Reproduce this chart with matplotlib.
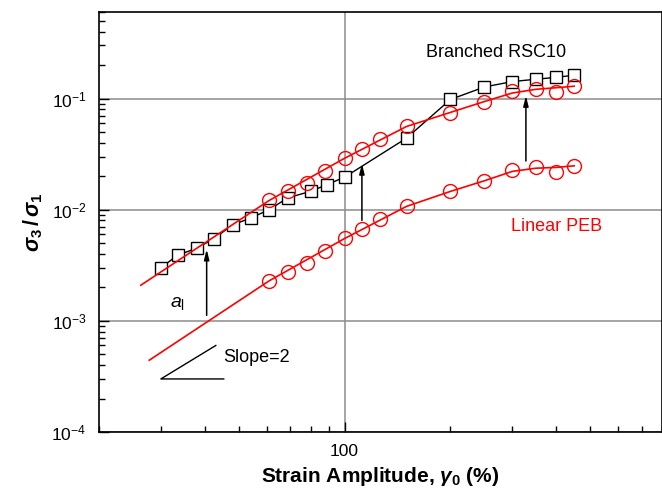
import matplotlib
matplotlib.use('Agg')
import matplotlib.pyplot as plt
from matplotlib import ticker

plt.rcParams['font.family'] = ['Liberation Sans', 'DejaVu Sans']
plt.rcParams['mathtext.fontset'] = 'custom'
plt.rcParams['mathtext.rm'] = 'Liberation Sans'
plt.rcParams['mathtext.it'] = 'Liberation Sans:italic'
plt.rcParams['mathtext.bf'] = 'Liberation Sans:bold'
plt.rcParams['mathtext.bfit'] = 'Liberation Sans:italic:bold'

# -----------------------------
# data
# -----------------------------
# Branched RSC10 (open squares, joined)
branched_strain = [30, 33.5, 38, 42.5, 48, 54, 61, 69, 80, 89, 100, 150, 200, 250, 300, 350, 400, 450]
branched_ratio = [0.0030, 0.0039, 0.0045, 0.0055, 0.0073, 0.0084, 0.0100, 0.0128, 0.0146, 0.0168,
                  0.0196, 0.044, 0.098, 0.127, 0.142, 0.149, 0.155, 0.162]

# Linear PEB (open red circles), two sets
linear_strain = [61, 69, 78, 88, 100, 112, 126, 150, 200, 250, 300, 350, 400, 450]
linear_upper = [0.0121, 0.0146, 0.0175, 0.0221, 0.0291, 0.0348, 0.0428, 0.056, 0.0748, 0.0934,
                0.117, 0.123, 0.114, 0.129]
linear_lower = [0.00229, 0.00275, 0.0033, 0.00425, 0.00556, 0.00675, 0.0083, 0.0107, 0.0146, 0.0181,
                0.0226, 0.0240, 0.0219, 0.0248]

# fitted red curves
fit_upper_x = [26.3, 61, 100, 150, 200, 250, 300, 350, 400, 450]
fit_upper_y = [0.00209, 0.0121, 0.029, 0.056, 0.075, 0.094, 0.112, 0.121, 0.125, 0.129]
fit_lower_x = [27.8, 61, 100, 150, 200, 250, 300, 350, 400, 450]
fit_lower_y = [0.000442, 0.00229, 0.0055, 0.0107, 0.0146, 0.0182, 0.0221, 0.0236, 0.0240, 0.0248]

# arrows (x, tail y, tip y)
arrow_x = [40.5, 112, 328]
arrow_tail = [0.00112, 0.0080, 0.0274]
arrow_tip = [0.0044, 0.026, 0.106]

# slope = 2 triangle
slope_x = [45.3, 30, 43]
slope_y = [0.0003, 0.0003, 0.00060]

# -----------------------------
# plot
# -----------------------------
fig = plt.figure(figsize=(6.62, 4.88), dpi=100)
ax = fig.add_axes([0.1495, 0.1148, 0.8505, 0.8606])
ax.set_xscale('log')
ax.set_yscale('log')
ax.set_xlim(20, 800)
ax.set_ylim(1e-4, 0.6)

ax.grid(True, which='major', color='#8c8c8c', lw=1.1)
ax.set_axisbelow(True)

ax.plot(branched_strain, branched_ratio, color='black', lw=1.0, marker='s', ms=9,
        mfc='white', mec='black', mew=1.0, zorder=3)
ax.plot(fit_upper_x, fit_upper_y, color='red', lw=1.2, zorder=4)
ax.plot(fit_lower_x, fit_lower_y, color='red', lw=1.2, zorder=4)
ax.plot(linear_strain, linear_upper, ls='none', marker='o', ms=10, mfc='none', mec='red', mew=1.0, zorder=5)
ax.plot(linear_strain, linear_lower, ls='none', marker='o', ms=10, mfc='none', mec='red', mew=1.0, zorder=5)

for x, y0, y1 in zip(arrow_x, arrow_tail, arrow_tip):
    ax.annotate('', xy=(x, y1), xytext=(x, y0),
                arrowprops=dict(arrowstyle='-|>,head_length=0.6,head_width=0.15', color='black',
                                lw=1.1, shrinkA=0, shrinkB=0), zorder=6)

ax.plot(slope_x, slope_y, color='black', lw=1.0)

ax.text(270, 0.26, 'Branched RSC10', fontsize=13, ha='center', va='center')
ax.text(401, 0.0071, 'Linear PEB', fontsize=13, color='red', ha='center', va='center')
ax.text(56, 0.00047, 'Slope=2', fontsize=13, ha='center', va='center')
ax.text(33.4, 0.00143, r'$a_\mathrm{l}$', fontsize=14, ha='center', va='center')

ax.set_xlabel(r'Strain Amplitude, $\mathbfit{\gamma}_\mathbf{0}$ (%)', fontsize=15, fontweight='bold', labelpad=4)
ax.set_ylabel(r'$\mathbfit{\sigma}_\mathbf{3}\,\mathbf{/}\,\mathbfit{\sigma}_\mathbf{1}$', fontsize=15.5, labelpad=5)

ax.xaxis.set_major_formatter(ticker.FormatStrFormatter('%d'))
ax.xaxis.set_minor_formatter(ticker.NullFormatter())
ax.yaxis.set_minor_locator(ticker.LogLocator(base=10, subs=range(2, 10), numticks=20))
ax.yaxis.set_minor_formatter(ticker.NullFormatter())
ax.tick_params(which='both', direction='in', width=1.0, labelsize=12.5)
ax.tick_params(which='major', length=7, pad=9)
ax.tick_params(which='minor', length=4)
for s in ax.spines.values():
    s.set_linewidth(1.2)

fig.savefig('out.png', dpi=100)
